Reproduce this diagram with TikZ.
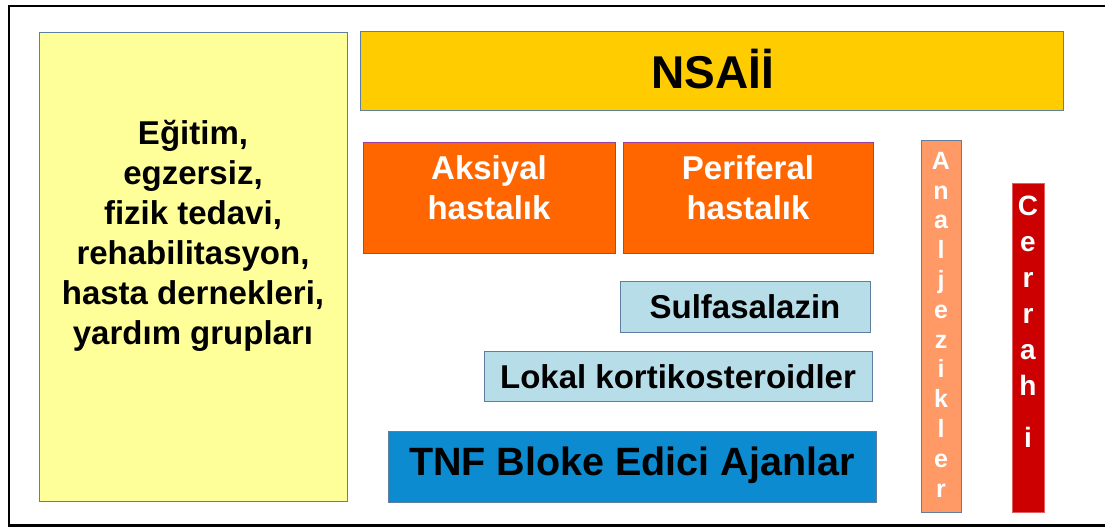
\documentclass[tikz,border=0pt]{standalone}
\usepackage{fontspec}
\setmainfont{Liberation Sans}
\definecolor{yel}{HTML}{FFFF99}
\definecolor{gold}{HTML}{FFCC00}
\definecolor{org}{HTML}{FF6600}
\definecolor{purp}{HTML}{9A3FA0}
\definecolor{ltblue}{HTML}{B7DDE8}
\definecolor{tnfblue}{HTML}{0D8BD0}
\definecolor{salmon}{HTML}{FF9966}
\definecolor{crim}{HTML}{CC0000}
\definecolor{bgray}{HTML}{5F7EA0}
\definecolor{redb}{HTML}{E06060}
\begin{document}
\begin{tikzpicture}[x=1pt,y=-1pt,
  box/.style={draw=bgray, line width=1.3pt, inner sep=0pt, anchor=north west},
  txt/.style={font=\bfseries\fontsize{33}{40}\selectfont, align=center, inner sep=0pt},
  vlet/.style={font=\bfseries\fontsize{#1}{#1}\selectfont, text=white, inner sep=0pt, anchor=base}]
\path[use as bounding box, clip] (0,0) rectangle (1105,530);
\fill[white] (0,0) rectangle (1105,530);
\draw[line width=2.6pt] (9,6) rectangle (1110,525.5);

% boxes
\node[box, fill=yel, minimum width=308pt, minimum height=469pt] (edu) at (39,32) {};
\node[box, fill=gold, minimum width=703pt, minimum height=79pt] (nsa) at (360,31) {};
\node[box, draw=purp, fill=org, minimum width=252pt, minimum height=111pt] (aks) at (363,142) {};
\node[box, draw=purp, fill=org, minimum width=250pt, minimum height=111pt] (per) at (623,142) {};
\node[box, fill=ltblue, minimum width=250pt, minimum height=51pt] (sul) at (620,281) {};
\node[box, fill=ltblue, minimum width=388pt, minimum height=50pt] (lok) at (484,351) {};
\node[box, fill=tnfblue, minimum width=488pt, minimum height=71pt] (tnf) at (388,431) {};
\node[box, fill=salmon, minimum width=40pt, minimum height=372pt] (ana) at (921,140) {};
\node[box, draw=redb, line width=0.8pt, fill=crim, minimum width=32pt, minimum height=329pt] (cer) at (1012,183) {};

% texts
\node[txt] (eduT) at (193,236) {Eğitim,\\egzersiz,\\fizik tedavi,\\rehabilitasyon,\\hasta dernekleri,\\yardım grupları};
\node[txt, font=\bfseries\fontsize{46}{50}\selectfont] (nsaT) at (713,69) {NSAİİ};
\node[txt, text=white] (aksT) at (489,188) {Aksiyal\\hastalık};
\node[txt, text=white] (perT) at (748,188) {Periferal\\hastalık};
\node[txt] (sulT) at (745,307) {Sulfasalazin};
\node[txt] (lokT) at (678,377) {Lokal kortikosteroidler};
\node[txt, font=\bfseries\fontsize{39.5}{44}\selectfont] (tnfT) at (632,465) {TNF Bloke Edici Ajanlar};

% vertical letters
\foreach \l [count=\i] in {A,n,a,l,j,e,z,i,k,l,e,r}
  \node[vlet=25] (ana\i) at (941,{169.3+29.8*(\i-1)}) {\l};
\foreach \l/\yy [count=\i] in {C/215,e/251,r/287,r/323,a/359,h/395,i/447}
  \node[vlet=28] (cer\i) at (1028,\yy) {\l};
\end{tikzpicture}
\end{document}
